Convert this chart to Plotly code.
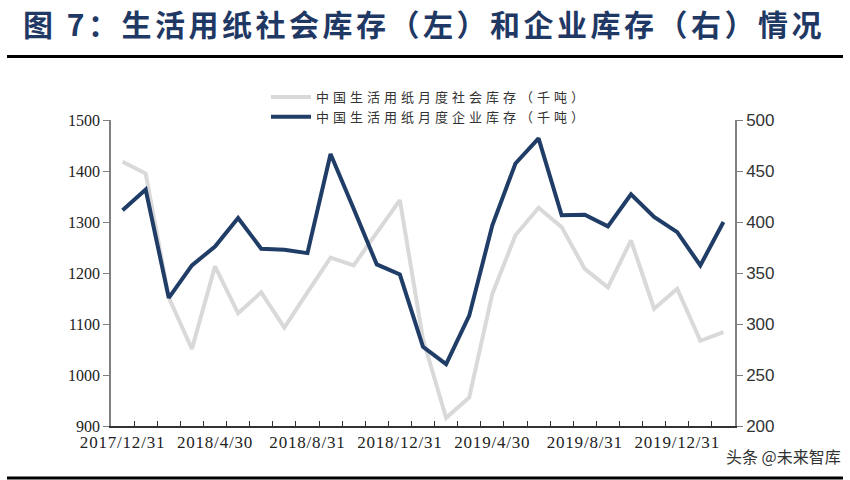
import plotly.graph_objects as go

dates = ["2017/12/31", "2018/1/31", "2018/2/28", "2018/3/31", "2018/4/30", "2018/5/31",
         "2018/6/30", "2018/7/31", "2018/8/31", "2018/9/30", "2018/10/31", "2018/11/30",
         "2018/12/31", "2019/1/31", "2019/2/28", "2019/3/31", "2019/4/30", "2019/5/31",
         "2019/6/30", "2019/7/31", "2019/8/31", "2019/9/30", "2019/10/31", "2019/11/30",
         "2019/12/31", "2020/1/31", "2020/2/29"]
social_stock = [1418, 1395, 1152, 1051, 1213, 1121, 1162, 1093, 1162, 1230, 1215, 1280,
                1343, 1070, 916, 956, 1159, 1274, 1328, 1290, 1208, 1172, 1264, 1130,
                1169, 1067, 1084]
enterprise_stock = [411.5, 431.8, 325.6, 357.4, 376.0, 403.9, 373.8, 372.8, 369.5, 466.6,
                    413.0, 358.4, 348.5, 277.7, 260.7, 308.2, 396.7, 457.4, 482.0, 406.6,
                    407.2, 395.7, 427.2, 404.9, 390.1, 357.4, 400.0]
label_dates = ["2017/12/31", "2018/4/30", "2018/8/31", "2018/12/31", "2019/4/30",
               "2019/8/31", "2019/12/31"]
name_social = "中国生活用纸月度社会库存（千吨）"
name_enterprise = "中国生活用纸月度企业库存（千吨）"
title_text = "图 7：生活用纸社会库存（左）和企业库存（右）情况"
watermark = "头条 @未来智库"

W, H = 850, 480
L, R, T, B = 111, 735, 120, 426


def px(x):
    return (x - L) / (R - L)


def py(y):
    return (B - y) / (B - T)


def spaced(text, sp):
    return '<span style="letter-spacing:%gpx">%s</span>' % (sp, text)


fig = go.Figure()
fig.add_trace(go.Scatter(x=dates, y=social_stock, name=spaced(name_social, 4), mode="lines",
                         line=dict(color="#d9d9d9", width=4), yaxis="y"))
fig.add_trace(go.Scatter(x=dates, y=enterprise_stock, name=spaced(name_enterprise, 4),
                         mode="lines", line=dict(color="#1f3d66", width=4), yaxis="y2"))

ticktext = [spaced(d, 0.8) if d in label_dates else "" for d in dates]

fig.update_layout(
    width=W, height=H, autosize=False,
    margin=dict(l=L, r=W - R, t=T, b=H - B, pad=0),
    paper_bgcolor="white", plot_bgcolor="white",
    showlegend=True,
    legend=dict(x=px(266), y=py(82), xanchor="left", yanchor="top",
                font=dict(family="Noto Sans CJK SC", size=13, color="#333333"),
                bgcolor="rgba(0,0,0,0)", tracegroupgap=0, itemwidth=40,
                traceorder="normal"),
    xaxis=dict(type="category", range=[-0.5, len(dates) - 0.5],
               tickmode="array", tickvals=dates, ticktext=ticktext,
               tickson="boundaries", ticks="inside", ticklen=5, tickwidth=1,
               tickcolor="#333333", showline=True, linecolor="#333333", linewidth=1.5,
               showgrid=False, zeroline=False,
               tickfont=dict(family="Liberation Serif", size=17, color="#222222"),
               tickangle=0),
    yaxis=dict(range=[900, 1500], dtick=100, tick0=900, ticks="outside", ticklen=6,
               tickcolor="#808080", showline=True, linecolor="#808080", linewidth=1.5,
               showgrid=False, zeroline=False,
               tickfont=dict(family="Liberation Serif", size=16, color="#222222")),
    yaxis2=dict(range=[200, 500], dtick=50, tick0=200, overlaying="y", side="right",
                ticks="outside", ticklen=6, tickcolor="#808080", showline=True,
                linecolor="#808080", linewidth=1.5, showgrid=False, zeroline=False,
                tickfont=dict(family="Liberation Sans", size=17, color="#333333")),
)

fig.add_annotation(text="<b>" + spaced(title_text, 3.5) + "</b>", xref="paper", yref="paper",
                   x=px(424), y=py(23), xanchor="center", yanchor="middle",
                   showarrow=False,
                   font=dict(family="Noto Sans CJK SC", size=30, color="#1f3864"))
fig.add_annotation(text=watermark, xref="paper", yref="paper",
                   x=px(843), y=py(456), xanchor="right", yanchor="middle",
                   showarrow=False,
                   font=dict(family="Noto Sans CJK SC", size=16, color="#333333"))

fig.add_shape(type="line", xref="paper", yref="paper", x0=px(7), x1=px(843),
              y0=py(56.5), y1=py(56.5), line=dict(color="black", width=3))
fig.add_shape(type="line", xref="paper", yref="paper", x0=px(7), x1=px(843),
              y0=py(478), y1=py(478), line=dict(color="black", width=3))

fig.write_html("out.html")
